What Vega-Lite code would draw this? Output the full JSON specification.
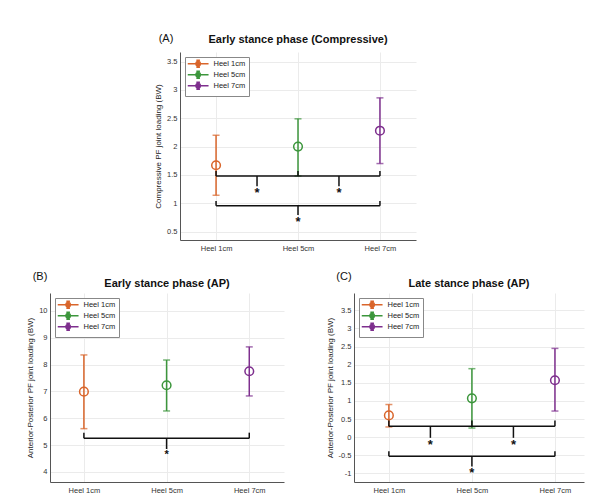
{
  "$schema": "https://vega.github.io/schema/vega-lite/v6.json",
  "padding": {"left": 26, "top": 33, "right": 5, "bottom": 3},
  "background": "white",
  "config": {
    "font": "Liberation Sans",
    "view": {"stroke": null},
    "axis": {
      "gridColor": "#ebebeb",
      "domainColor": "#555",
      "ticks": false,
      "labelFontSize": 7.5,
      "labelColor": "#333",
      "titleFontSize": 8,
      "titleFontWeight": "normal",
      "titleColor": "#222",
      "labelPadding": 3,
      "titlePadding": 4,
      "labelOverlap": false
    },
    "title": {"fontSize": 11, "fontWeight": "bold", "color": "#111"},
    "legend": {
      "orient": "top-left",
      "offset": 5,
      "fillColor": "white",
      "strokeColor": "#888",
      "padding": 3,
      "labelFontSize": 7.5,
      "labelColor": "#222",
      "symbolType": "M-1.6,0H6.72M2.56,-1.44V1.44M1.84,-1.44H3.28M1.84,1.44H3.28M3.44,0A0.88,0.88 0 1,1 1.68,0A0.88,0.88 0 1,1 3.44,0",
      "symbolSize": 25,
      "symbolStrokeWidth": 1.5,
      "rowPadding": -8,
      "labelOffset": 18
    }
  },
  "datasets": {
    "a": [
      {"heel": "Heel 1cm", "x": 1, "mean": 1.67, "lo": 1.14, "hi": 2.2},
      {"heel": "Heel 5cm", "x": 2, "mean": 2.0, "lo": 1.48, "hi": 2.49},
      {"heel": "Heel 7cm", "x": 3, "mean": 2.28, "lo": 1.7, "hi": 2.86}
    ],
    "a_br": [
      {"x": 1, "x2": 3, "y": 1.48, "y2": 1.48},
      {"x": 1, "x2": 1, "y": 1.48, "y2": 1.57},
      {"x": 2, "x2": 2, "y": 1.48, "y2": 1.57},
      {"x": 3, "x2": 3, "y": 1.48, "y2": 1.57},
      {"x": 1.5, "x2": 1.5, "y": 1.48, "y2": 1.3},
      {"x": 2.5, "x2": 2.5, "y": 1.48, "y2": 1.3},
      {"x": 1, "x2": 3, "y": 0.955, "y2": 0.955},
      {"x": 1, "x2": 1, "y": 0.955, "y2": 1.04},
      {"x": 3, "x2": 3, "y": 0.955, "y2": 1.04},
      {"x": 2, "x2": 2, "y": 0.955, "y2": 0.79}
    ],
    "a_st": [
      {"x": 1.5, "y": 1.3},
      {"x": 2.5, "y": 1.3},
      {"x": 2, "y": 0.79}
    ],
    "b": [
      {"heel": "Heel 1cm", "x": 1, "mean": 6.99, "lo": 5.61, "hi": 8.36},
      {"heel": "Heel 5cm", "x": 2, "mean": 7.23, "lo": 6.27, "hi": 8.17},
      {"heel": "Heel 7cm", "x": 3, "mean": 7.75, "lo": 6.83, "hi": 8.66}
    ],
    "b_br": [
      {"x": 1, "x2": 3, "y": 5.25, "y2": 5.25},
      {"x": 1, "x2": 1, "y": 5.25, "y2": 5.46},
      {"x": 3, "x2": 3, "y": 5.25, "y2": 5.46},
      {"x": 2, "x2": 2, "y": 5.25, "y2": 4.85}
    ],
    "b_st": [
      {"x": 2, "y": 4.85}
    ],
    "c": [
      {"heel": "Heel 1cm", "x": 1, "mean": 0.6, "lo": 0.28, "hi": 0.9},
      {"heel": "Heel 5cm", "x": 2, "mean": 1.07, "lo": 0.25, "hi": 1.89},
      {"heel": "Heel 7cm", "x": 3, "mean": 1.57, "lo": 0.72, "hi": 2.45}
    ],
    "c_br": [
      {"x": 1, "x2": 3, "y": 0.3, "y2": 0.3},
      {"x": 1, "x2": 1, "y": 0.3, "y2": 0.46},
      {"x": 2, "x2": 2, "y": 0.3, "y2": 0.46},
      {"x": 3, "x2": 3, "y": 0.3, "y2": 0.46},
      {"x": 1.5, "x2": 1.5, "y": 0.3, "y2": -0.02},
      {"x": 2.5, "x2": 2.5, "y": 0.3, "y2": -0.02},
      {"x": 1, "x2": 3, "y": -0.53, "y2": -0.53},
      {"x": 1, "x2": 1, "y": -0.53, "y2": -0.39},
      {"x": 3, "x2": 3, "y": -0.53, "y2": -0.39},
      {"x": 2, "x2": 2, "y": -0.53, "y2": -0.81}
    ],
    "c_st": [
      {"x": 1.5, "y": -0.02},
      {"x": 2.5, "y": -0.02},
      {"x": 2, "y": -0.81}
    ]
  },
  "spacing": 19,
  "resolve": {"scale": {"color": "independent"}, "legend": {"color": "independent"}},
  "vconcat": [
    {
      "spacing": 0,
      "resolve": {"scale": {"color": "independent"}, "legend": {"color": "independent"}},
      "hconcat": [
        {
          "width": 104,
          "height": 1,
          "data": {"values": [{}]},
          "mark": {"type": "text"},
          "encoding": {"text": {"value": ""}}
        },
        {
          "width": 236,
          "height": 188,
          "title": {"text": "Early stance phase (Compressive)", "offset": -12},
          "layer": [
            {
              "data": {"name": "a"},
              "mark": {"type": "point", "shape": "circle", "filled": false, "size": 75, "strokeWidth": 1.5, "opacity": 1},
              "encoding": {
                "x": {"field": "x", "type": "quantitative", "scale": {"domain": [0.56, 3.44], "nice": false, "zero": false},
                  "axis": {"values": [1, 2, 3], "labelExpr": "datum.value == 1 ? 'Heel 1cm' : datum.value == 2 ? 'Heel 5cm' : 'Heel 7cm'", "title": null, "labelPadding": 4}},
                "y": {"field": "mean", "type": "quantitative", "scale": {"domain": [0.35, 3.67], "nice": false, "zero": false},
                  "axis": {"title": "Compressive PF joint loading (BW)", "values": [0.5, 1, 1.5, 2, 2.5, 3, 3.5], "tickCount": 8, "labelExpr": "'' + datum.value"}},
                "color": {"field": "heel", "type": "nominal", "scale": {"domain": ["Heel 1cm", "Heel 5cm", "Heel 7cm"], "range": ["#D9652B", "#3C963C", "#7E2F8E"]}, "legend": {"title": null}}
              }
            },
            {
              "data": {"name": "a"},
              "mark": {"type": "errorbar", "ticks": {"size": 7}, "thickness": 1.5},
              "encoding": {
                "x": {"field": "x", "type": "quantitative"},
                "y": {"field": "lo", "type": "quantitative",
                  "axis": {"title": "Compressive PF joint loading (BW)", "values": [0.5, 1, 1.5, 2, 2.5, 3, 3.5], "tickCount": 8, "labelExpr": "'' + datum.value"}},
                "y2": {"field": "hi"},
                "color": {"field": "heel", "type": "nominal", "legend": {"title": null}}
              }
            },
            {
              "data": {"name": "a_br"},
              "mark": {"type": "rule", "color": "#111", "strokeWidth": 1.5},
              "encoding": {
                "x": {"field": "x", "type": "quantitative"},
                "x2": {"field": "x2"},
                "y": {"field": "y", "type": "quantitative",
                  "axis": {"title": "Compressive PF joint loading (BW)", "values": [0.5, 1, 1.5, 2, 2.5, 3, 3.5], "tickCount": 8, "labelExpr": "'' + datum.value"}},
                "y2": {"field": "y2"}
              }
            },
            {
              "data": {"name": "a_st"},
              "mark": {"type": "text", "text": "*", "fontSize": 13, "fontWeight": "bold", "baseline": "top", "dy": 1, "color": "#111"},
              "encoding": {
                "x": {"field": "x", "type": "quantitative"},
                "y": {"field": "y", "type": "quantitative",
                  "axis": {"title": "Compressive PF joint loading (BW)", "values": [0.5, 1, 1.5, 2, 2.5, 3, 3.5], "tickCount": 8, "labelExpr": "'' + datum.value"}}
              }
            },
            {
              "data": {"values": [{}]},
              "mark": {"type": "text", "fontSize": 11, "dx": -14, "dy": -13, "color": "#111", "baseline": "middle"},
              "encoding": {
                "x": {"datum": 0.56, "type": "quantitative"},
                "y": {"datum": 3.67, "type": "quantitative",
                  "axis": {"title": "Compressive PF joint loading (BW)", "values": [0.5, 1, 1.5, 2, 2.5, 3, 3.5], "tickCount": 8, "labelExpr": "'' + datum.value"}},
                "text": {"value": "(A)"}
              }
            }
          ]
        }
      ]
    },
    {
      "spacing": 42,
      "resolve": {"scale": {"color": "independent"}, "legend": {"color": "independent"}},
      "hconcat": [
        {
          "width": 234,
          "height": 189,
          "title": {"text": "Early stance phase (AP)", "offset": -18},
          "layer": [
            {
              "data": {"name": "b"},
              "mark": {"type": "point", "shape": "circle", "filled": false, "size": 75, "strokeWidth": 1.5, "opacity": 1},
              "encoding": {
                "x": {"field": "x", "type": "quantitative", "scale": {"domain": [0.59, 3.42], "nice": false, "zero": false},
                  "axis": {"values": [1, 2, 3], "labelExpr": "datum.value == 1 ? 'Heel 1cm' : datum.value == 2 ? 'Heel 5cm' : 'Heel 7cm'", "title": null, "labelPadding": 4}},
                "y": {"field": "mean", "type": "quantitative", "scale": {"domain": [3.62, 10.67], "nice": false, "zero": false},
                  "axis": {"title": "Anterior-Posterior PF joint loading (BW)", "values": [4, 5, 6, 7, 8, 9, 10], "tickCount": 7, "labelExpr": "'' + datum.value"}},
                "color": {"field": "heel", "type": "nominal", "scale": {"domain": ["Heel 1cm", "Heel 5cm", "Heel 7cm"], "range": ["#D9652B", "#3C963C", "#7E2F8E"]}, "legend": {"title": null}}
              }
            },
            {
              "data": {"name": "b"},
              "mark": {"type": "errorbar", "ticks": {"size": 7}, "thickness": 1.5},
              "encoding": {
                "x": {"field": "x", "type": "quantitative"},
                "y": {"field": "lo", "type": "quantitative",
                  "axis": {"title": "Anterior-Posterior PF joint loading (BW)", "values": [4, 5, 6, 7, 8, 9, 10], "tickCount": 7, "labelExpr": "'' + datum.value"}},
                "y2": {"field": "hi"},
                "color": {"field": "heel", "type": "nominal", "legend": {"title": null}}
              }
            },
            {
              "data": {"name": "b_br"},
              "mark": {"type": "rule", "color": "#111", "strokeWidth": 1.5},
              "encoding": {
                "x": {"field": "x", "type": "quantitative"},
                "x2": {"field": "x2"},
                "y": {"field": "y", "type": "quantitative",
                  "axis": {"title": "Anterior-Posterior PF joint loading (BW)", "values": [4, 5, 6, 7, 8, 9, 10], "tickCount": 7, "labelExpr": "'' + datum.value"}},
                "y2": {"field": "y2"}
              }
            },
            {
              "data": {"name": "b_st"},
              "mark": {"type": "text", "text": "*", "fontSize": 11, "fontWeight": "bold", "baseline": "top", "dy": 0, "color": "#111"},
              "encoding": {
                "x": {"field": "x", "type": "quantitative"},
                "y": {"field": "y", "type": "quantitative",
                  "axis": {"title": "Anterior-Posterior PF joint loading (BW)", "values": [4, 5, 6, 7, 8, 9, 10], "tickCount": 7, "labelExpr": "'' + datum.value"}}
              }
            },
            {
              "data": {"values": [{}]},
              "mark": {"type": "text", "fontSize": 11, "dx": -10, "dy": -16, "color": "#111", "baseline": "middle"},
              "encoding": {
                "x": {"datum": 0.59, "type": "quantitative"},
                "y": {"datum": 10.67, "type": "quantitative",
                  "axis": {"title": "Anterior-Posterior PF joint loading (BW)", "values": [4, 5, 6, 7, 8, 9, 10], "tickCount": 7, "labelExpr": "'' + datum.value"}},
                "text": {"value": "(B)"}
              }
            }
          ]
        },
        {
          "width": 230,
          "height": 189,
          "title": {"text": "Late stance phase (AP)", "offset": -18},
          "layer": [
            {
              "data": {"name": "c"},
              "mark": {"type": "point", "shape": "circle", "filled": false, "size": 75, "strokeWidth": 1.5, "opacity": 1},
              "encoding": {
                "x": {"field": "x", "type": "quantitative", "scale": {"domain": [0.58, 3.35], "nice": false, "zero": false},
                  "axis": {"values": [1, 2, 3], "labelExpr": "datum.value == 1 ? 'Heel 1cm' : datum.value == 2 ? 'Heel 5cm' : 'Heel 7cm'", "title": null, "labelPadding": 4}},
                "y": {"field": "mean", "type": "quantitative", "scale": {"domain": [-1.24, 3.98], "nice": false, "zero": false},
                  "axis": {"title": "Anterior-Posterior PF joint loading (BW)", "values": [-1, -0.5, 0, 0.5, 1, 1.5, 2, 2.5, 3, 3.5], "tickCount": 11, "labelExpr": "'' + datum.value"}},
                "color": {"field": "heel", "type": "nominal", "scale": {"domain": ["Heel 1cm", "Heel 5cm", "Heel 7cm"], "range": ["#D9652B", "#3C963C", "#7E2F8E"]}, "legend": {"title": null}}
              }
            },
            {
              "data": {"name": "c"},
              "mark": {"type": "errorbar", "ticks": {"size": 7}, "thickness": 1.5},
              "encoding": {
                "x": {"field": "x", "type": "quantitative"},
                "y": {"field": "lo", "type": "quantitative",
                  "axis": {"title": "Anterior-Posterior PF joint loading (BW)", "values": [-1, -0.5, 0, 0.5, 1, 1.5, 2, 2.5, 3, 3.5], "tickCount": 11, "labelExpr": "'' + datum.value"}},
                "y2": {"field": "hi"},
                "color": {"field": "heel", "type": "nominal", "legend": {"title": null}}
              }
            },
            {
              "data": {"name": "c_br"},
              "mark": {"type": "rule", "color": "#111", "strokeWidth": 1.5},
              "encoding": {
                "x": {"field": "x", "type": "quantitative"},
                "x2": {"field": "x2"},
                "y": {"field": "y", "type": "quantitative",
                  "axis": {"title": "Anterior-Posterior PF joint loading (BW)", "values": [-1, -0.5, 0, 0.5, 1, 1.5, 2, 2.5, 3, 3.5], "tickCount": 11, "labelExpr": "'' + datum.value"}},
                "y2": {"field": "y2"}
              }
            },
            {
              "data": {"name": "c_st"},
              "mark": {"type": "text", "text": "*", "fontSize": 13, "fontWeight": "bold", "baseline": "top", "dy": 1, "color": "#111"},
              "encoding": {
                "x": {"field": "x", "type": "quantitative"},
                "y": {"field": "y", "type": "quantitative",
                  "axis": {"title": "Anterior-Posterior PF joint loading (BW)", "values": [-1, -0.5, 0, 0.5, 1, 1.5, 2, 2.5, 3, 3.5], "tickCount": 11, "labelExpr": "'' + datum.value"}}
              }
            },
            {
              "data": {"values": [{}]},
              "mark": {"type": "text", "fontSize": 11, "dx": -10, "dy": -16, "color": "#111", "baseline": "middle"},
              "encoding": {
                "x": {"datum": 0.58, "type": "quantitative"},
                "y": {"datum": 3.98, "type": "quantitative",
                  "axis": {"title": "Anterior-Posterior PF joint loading (BW)", "values": [-1, -0.5, 0, 0.5, 1, 1.5, 2, 2.5, 3, 3.5], "tickCount": 11, "labelExpr": "'' + datum.value"}},
                "text": {"value": "(C)"}
              }
            }
          ]
        }
      ]
    }
  ]
}
